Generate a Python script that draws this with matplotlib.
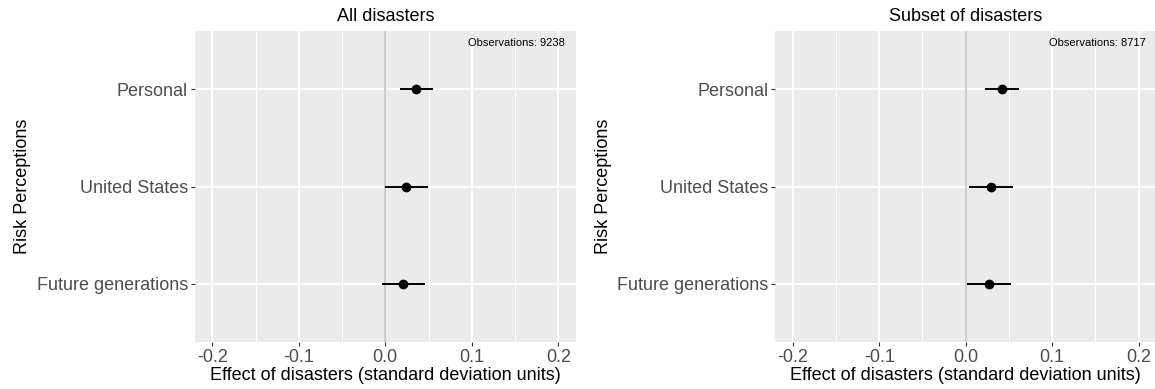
import numpy as np
import matplotlib
matplotlib.use("Agg")
from matplotlib import pyplot as plt
from matplotlib.ticker import MultipleLocator

plt.rcParams['font.family'] = ['Liberation Sans', 'DejaVu Sans']

# categorias (de abajo hacia arriba)
categorias = ['Future generations', 'United States', 'Personal']

# todos los desastres
est_todos = [0.021, 0.024, 0.036]
lo_todos = [-0.0035, -0.0005, 0.0165]
hi_todos = [0.046, 0.049, 0.0555]

# subconjunto de desastres
est_sub = [0.0266, 0.029, 0.0416]
lo_sub = [0.0015, 0.0038, 0.0223]
hi_sub = [0.052, 0.0547, 0.0613]

titulos = ['All disasters', 'Subset of disasters']
observaciones = [9238, 8717]

W, H = 1155, 389
fig = plt.figure(figsize=(W / 100, H / 100), dpi=100)

# posiciones de los paneles en pixeles
paneles = [(195, 47, 380.6, 311), (775.4, 47, 380.6, 311)]
datos = [(est_todos, lo_todos, hi_todos), (est_sub, lo_sub, hi_sub)]

for i in range(2):
    x0, y0, w, h = paneles[i]
    ax = fig.add_axes([x0 / W, y0 / H, w / W, h / H])
    ax.set_facecolor('#EBEBEB')
    for s in ax.spines.values():
        s.set_visible(False)

    ax.set_xlim(-0.22, 0.22)
    ax.set_ylim(-0.6, 2.6)
    ax.xaxis.set_minor_locator(MultipleLocator(0.05))
    ax.set_xticks([-0.2, -0.1, 0, 0.1, 0.2])
    ax.set_xticklabels(['-0.2', '-0.1', '0.0', '0.1', '0.2'])
    ax.set_yticks(range(len(categorias)))
    ax.set_yticklabels(categorias)

    ax.grid(which='major', color='white', linewidth=1.4)
    ax.grid(which='minor', axis='x', color='white', linewidth=0.7)
    ax.set_axisbelow(True)
    ax.tick_params(which='major', length=3, width=0.8, color='#333333',
                   labelsize=13, labelcolor='#4D4D4D', pad=2)
    ax.tick_params(which='minor', length=0)

    ax.axvline(0, color='#BEBEBE', linewidth=1.1, zorder=1)

    est, lo, hi = datos[i]
    y = np.arange(len(categorias))
    ax.hlines(y, lo, hi, color='black', linewidth=1.4, zorder=3)
    ax.plot(est, y, 'o', color='black', markersize=6, zorder=4)

    ax.text(0.208, 2.48, f'Observations: {observaciones[i]}', ha='right', va='center',
            fontsize=8, color='black')

    ax.set_title(titulos[i], fontsize=13, pad=7)
    ax.set_xlabel('Effect of disasters (standard deviation units)', fontsize=13, labelpad=1)
    ax.set_ylabel('Risk Perceptions', fontsize=13, labelpad=4)

fig.savefig('out.png', dpi=100)
